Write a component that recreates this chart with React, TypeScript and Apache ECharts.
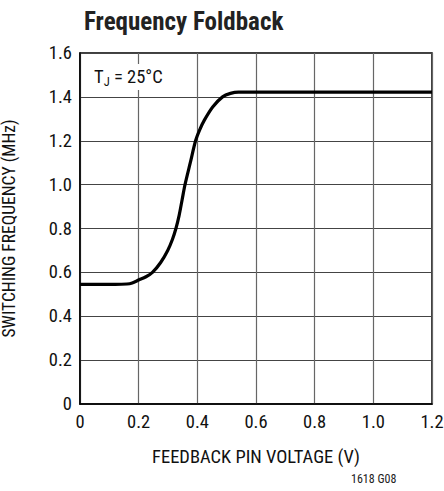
import React, { useEffect, useRef } from "react";
import * as echarts from "echarts";

const xTicks = ["0", "0.2", "0.4", "0.6", "0.8", "1.0", "1.2"];
const yTicks = ["0", "0.2", "0.4", "0.6", "0.8", "1.0", "1.2", "1.4", "1.6"];

const voltage = [0, 0.12, 0.16, 0.178, 0.2, 0.225, 0.247, 0.275, 0.299, 0.315, 0.327, 0.338, 0.348, 0.358, 0.376, 0.394, 0.408, 0.424, 0.453, 0.486, 0.513, 0.54, 0.7, 1.2];
const frequency = [0.545, 0.545, 0.547, 0.552, 0.565, 0.58, 0.6, 0.645, 0.7, 0.75, 0.8, 0.86, 0.93, 1.0, 1.1, 1.2, 1.25, 1.294, 1.355, 1.4, 1.416, 1.422, 1.422, 1.422];

const FONT = "'Liberation Sans Narrow', 'Roboto Condensed', 'Liberation Sans', sans-serif";

export default function App() {
  const ref = useRef<HTMLDivElement>(null);
  useEffect(() => {
    if (!ref.current) return;
    const chart = echarts.init(ref.current, null, { renderer: "svg" });
    const data = voltage.map((v, i) => [v, frequency[i]]);
    chart.setOption({
      animation: false,
      backgroundColor: "#fff",
      title: {
        text: "Frequency Foldback",
        left: 79,
        top: 4,
        textStyle: { fontFamily: FONT, fontWeight: "bold", fontSize: 25, color: "#222" },
      },
      grid: {
        left: 80,
        top: 53,
        width: 352,
        height: 351,
        show: true,
        borderColor: "#000",
        borderWidth: 1.5,
        containLabel: false,
        outerBoundsMode: "none",
      },
      xAxis: {
        type: "value",
        min: 0,
        max: 1.2,
        interval: 0.2,
        name: "FEEDBACK PIN VOLTAGE (V)",
        nameLocation: "middle",
        nameGap: 43,
        nameTextStyle: { fontFamily: FONT, fontSize: 18.5, color: "#111" },
        axisLine: { show: true, lineStyle: { color: "#000", width: 1.5 } },
        axisTick: { show: false },
        axisLabel: {
          fontFamily: FONT,
          fontSize: 18.5,
          color: "#111",
          margin: 8,
          formatter: (v: number) => xTicks[Math.round(v / 0.2)] ?? "",
        },
        splitLine: { show: true, lineStyle: { color: "#666", width: 1.2 } },
      },
      yAxis: {
        type: "value",
        min: 0,
        max: 1.6,
        interval: 0.2,
        name: "SWITCHING FREQUENCY (MHz)",
        nameLocation: "middle",
        nameGap: 62,
        nameTextStyle: { fontFamily: FONT, fontSize: 17.5, color: "#111" },
        axisLine: { show: true, lineStyle: { color: "#000", width: 1.5 } },
        axisTick: { show: false },
        axisLabel: {
          fontFamily: FONT,
          fontSize: 18.5,
          color: "#111",
          margin: 8,
          formatter: (v: number) => yTicks[Math.round(v / 0.2)] ?? "",
        },
        splitLine: { show: true, lineStyle: { color: "#444", width: 1.2 } },
      },
      graphic: [
        {
          type: "text",
          left: 92,
          top: 64,
          style: {
            text: "{t|T}{s|J}{t| = 25°C}",
            rich: {
              t: { fontFamily: FONT, fontSize: 18.5, fill: "#111" },
              s: { fontFamily: FONT, fontSize: 12.5, fill: "#111", padding: [9, 0, 0, 0] },
            },
            fill: "#111",
            backgroundColor: "#fff",
            padding: [2, 2, 2, 2],
          },
          z: 10,
        },
        {
          type: "text",
          left: 351,
          top: 473,
          style: { text: "1618 G08", fontFamily: FONT, fontSize: 12, fill: "#222" },
        },
      ],
      series: [
        {
          type: "line",
          data,
          smooth: 0.3,
          showSymbol: false,
          symbol: "none",
          lineStyle: { color: "#000", width: 3.2 },
          z: 5,
        },
      ],
    });
    return () => chart.dispose();
  }, []);
  return <div ref={ref} style={{ position: "fixed", left: 0, top: 0, width: 444, height: 491 }} />;
}
